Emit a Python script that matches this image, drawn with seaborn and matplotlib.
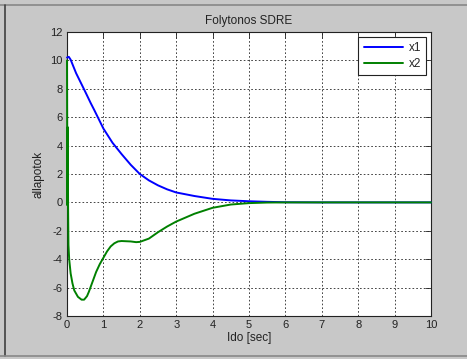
import numpy as np
import pandas as pd
import matplotlib
matplotlib.use("Agg")
import matplotlib.pyplot as plt
import seaborn as sns
from matplotlib.lines import Line2D

# ---- data ----
t_x1 = [0.0, 0.05, 0.1, 0.25, 0.5, 0.65, 0.75, 1.0, 1.25, 1.5, 1.75, 2.0, 2.25, 2.5,
        2.75, 3.0, 3.5, 4.0, 4.5, 5.0, 5.5, 6.0, 7.0, 8.0, 9.0, 10.0]
x1 = [10.2, 10.25, 10.05, 9.1, 7.8, 7.0, 6.5, 5.2, 4.2, 3.4, 2.65, 2.0, 1.55, 1.2,
      0.92, 0.7, 0.45, 0.25, 0.14, 0.08, 0.04, 0.01, 0.0, 0.0, 0.0, 0.0]

t_x2 = [0.0, 0.01, 0.02, 0.03, 0.04, 0.06, 0.1, 0.15, 0.2, 0.3, 0.4, 0.47, 0.55,
        0.6, 0.7, 0.8, 0.9, 1.0, 1.1, 1.2, 1.3, 1.4, 1.5, 1.75, 1.9, 2.0, 2.25,
        2.5, 2.75, 3.0, 3.5, 4.0, 4.5, 5.0, 5.5, 6.0, 7.0, 8.0, 9.0, 10.0]
x2 = [10.0, -0.2, 5.3, -0.3, -3.0, -4.0, -5.0, -5.7, -6.2, -6.65, -6.85, -6.85, -6.6,
      -6.3, -5.6, -4.9, -4.35, -3.9, -3.45, -3.1, -2.88, -2.75, -2.72, -2.75, -2.8, -2.78, -2.55,
      -2.1, -1.7, -1.35, -0.8, -0.38, -0.15, -0.05, -0.01, 0.0, 0.0, 0.0, 0.0, 0.0]

series_names = ["x1", "x2"]
xticks = list(range(0, 11))
yticks = list(range(-8, 13, 2))

df = pd.concat([
    pd.DataFrame({"t": t_x1, "v": x1, "s": series_names[0]}),
    pd.DataFrame({"t": t_x2, "v": x2, "s": series_names[1]}),
], ignore_index=True)

sns.set_style("white")
plt.rcParams["font.family"] = ["Liberation Sans", "DejaVu Sans"]

bg = "#c8c8c8"
fig = plt.figure(figsize=(4.67, 3.59), dpi=100, facecolor=bg)
ax = fig.add_axes([67 / 467, 1 - 316 / 359, (431 - 67) / 467, (316 - 32) / 359])
ax.set_facecolor("white")

sns.lineplot(data=df, x="t", y="v", hue="s", palette=["#0000ff", "#008000"],
             ax=ax, linewidth=1.4, sort=False, estimator=None, legend=True,
             zorder=3, clip_on=False)

ax.set_xlim(0, 10)
ax.set_ylim(-8, 12)
ax.set_xticks(xticks)
ax.set_yticks(yticks)
ax.set_xticklabels([str(v) for v in xticks])
ax.set_yticklabels([str(v) for v in yticks])
ax.grid(True, color="#000000", linestyle=(0, (2, 2.5)), linewidth=0.6, alpha=0.85)
ax.tick_params(direction="in", length=4, width=0.6, top=True, right=True,
               labelsize=8, colors="#222222", pad=3)
for sp in ax.spines.values():
    sp.set_color("#222222")
    sp.set_linewidth(0.8)

ax.set_title("Folytonos SDRE", fontsize=8.5, pad=6, color="#222222")
ax.set_xlabel("Ido [sec]", fontsize=8.5, labelpad=1, color="#222222")
ax.set_ylabel("allapotok", fontsize=8.5, labelpad=4, color="#222222")

leg = ax.legend(loc="upper right", fontsize=8.5, frameon=True, fancybox=False,
                edgecolor="#222222", framealpha=1, borderaxespad=0.4,
                handlelength=3.3, handletextpad=0.5, borderpad=0.45, labelspacing=0.35)
leg.get_frame().set_linewidth(0.8)
leg.set_zorder(6)

# window border like the screenshot
fig.add_artist(Line2D([0, 1], [1 - 4.5 / 359] * 2, transform=fig.transFigure, color="#888888", lw=1.2))
fig.add_artist(Line2D([5 / 467] * 2, [3 / 359, 1 - 4.5 / 359], transform=fig.transFigure, color="#404040", lw=1.2))
fig.add_artist(Line2D([0, 1], [3 / 359] * 2, transform=fig.transFigure, color="#888888", lw=1.2))

fig.savefig("out.png", dpi=100, facecolor=bg)
